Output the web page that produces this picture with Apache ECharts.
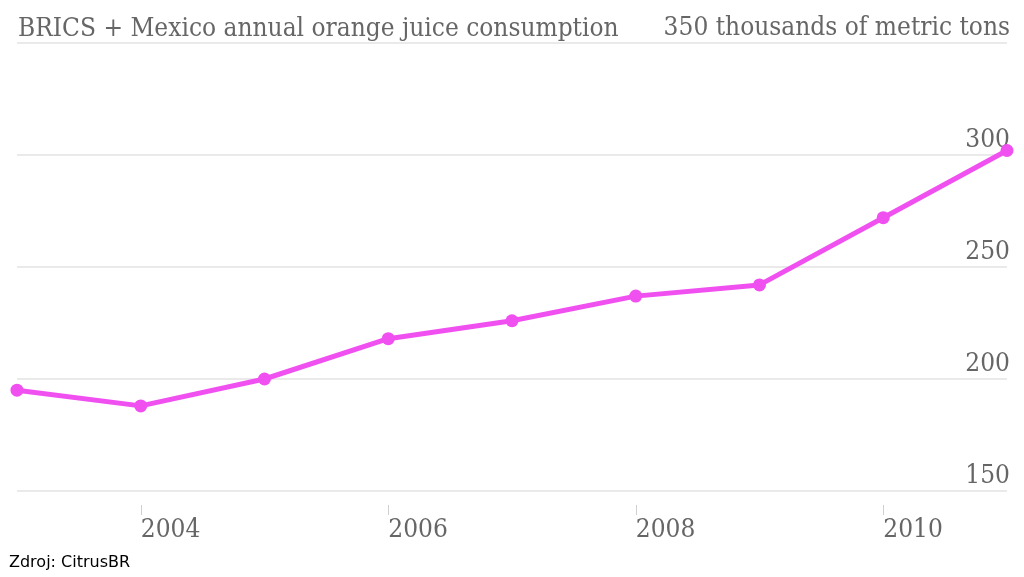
<!DOCTYPE html>
<html><head><meta charset="utf-8">
<style>html,body{margin:0;padding:0;background:#fff}#c{width:1024px;height:577px}</style>
<script src="https://cdn.jsdelivr.net/npm/echarts@6/dist/echarts.min.js"></script>
</head><body><div id="c"></div>
<script>
const years = ['2003','2004','2005','2006','2007','2008','2009','2010','2011'];
const consumption = [195, 188, 200, 218, 226, 237, 242, 272, 302];
const yTicks = [150, 200, 250, 300, 350];
const titleText = 'BRICS + Mexico annual orange juice consumption';
const unitText = 'thousands of metric tons';
const sourceText = 'Zdroj: CitrusBR';

const serif = '"DejaVu Serif Condensed", "DejaVu Serif", serif';
const chart = echarts.init(document.getElementById('c'));
chart.setOption({
  animation: false,
  backgroundColor: '#fff',
  title: [
    {text: titleText, left: 13, top: 11, textStyle: {fontFamily: serif, fontSize: 26, fontWeight: 'normal', color: '#666'}},
    {text: sourceText, left: 4, top: 550, textStyle: {fontFamily: '"DejaVu Sans", sans-serif', fontSize: 16, fontWeight: 'normal', color: '#000'}}
  ],
  grid: {left: 17, right: 17, top: 43, bottom: 86},
  xAxis: {
    type: 'category', data: years, boundaryGap: false, offset: 14,
    axisLine: {show: false},
    axisTick: {show: true, length: 10, lineStyle: {color: '#cfcfcf', width: 1}, interval: (i, v) => (+v) % 2 === 0},
    axisLabel: {interval: (i, v) => (+v) % 2 === 0, align: 'left', margin: 12, fontFamily: serif, fontSize: 26, color: '#666'},
    splitLine: {show: false}
  },
  yAxis: {
    type: 'value', position: 'right', min: 150, max: 350, interval: 50,
    axisLine: {show: false}, axisTick: {show: false},
    axisLabel: {inside: true, margin: -3, verticalAlign: 'bottom', padding: [0, 0, 2, 0],
      fontFamily: serif, fontSize: 26, color: '#666',
      formatter: v => v === 350 ? v + ' ' + unitText : String(v)},
    splitLine: {lineStyle: {color: '#e3e3e3', width: 1.5}}
  },
  series: [{
    type: 'line', data: consumption,
    lineStyle: {color: '#f050f0', width: 5},
    itemStyle: {color: '#f050f0'},
    symbol: 'circle', symbolSize: 13, showAllSymbol: true,
    clip: false
  }]
});
</script></body></html>
